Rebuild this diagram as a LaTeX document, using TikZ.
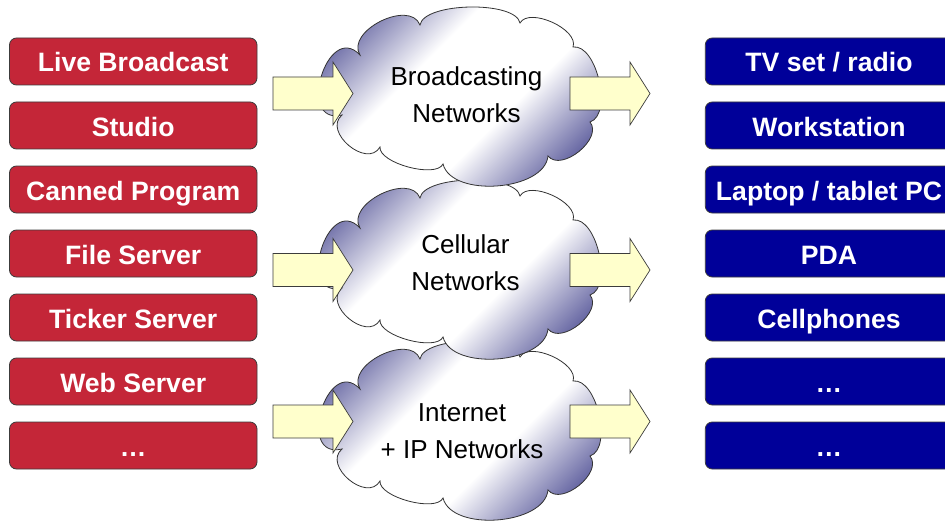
\documentclass[tikz,border=0pt]{standalone}
\usepackage{fontspec}
\setmainfont{Liberation Sans}
\usetikzlibrary{calc}

\definecolor{srcred}{RGB}{196,38,56}
\definecolor{dstblue}{RGB}{0,0,153}
\definecolor{arrowfill}{RGB}{255,255,204}
\definecolor{clouddark}{RGB}{98,98,160}
\definecolor{edgegray}{RGB}{60,60,60}

% dark at both ends of the axis, a broad white band in the middle
\pgfdeclareverticalshading{cloudfade}{100bp}{color(0bp)=(clouddark); color(25bp)=(clouddark);
  color(41bp)=(white); color(59bp)=(white); color(75bp)=(clouddark); color(100bp)=(clouddark)}

\tikzset{
  devbox/.style={rectangle, rounded corners=7pt, draw=edgegray, line width=0.8pt,
    minimum width=247.5pt, minimum height=47pt, inner sep=0pt, text=white,
    text height=21pt, text depth=0pt,
    font=\bfseries\fontsize{26.6}{30}\selectfont},
  srcbox/.style={devbox, fill=srcred},
  dstbox/.style={devbox, fill=dstblue},
  nettext/.style={align=center, inner sep=0pt, font=\fontsize{26}{37}\selectfont},
  arrowstyle/.style={draw=edgegray, line width=0.7pt, fill=arrowfill, line join=miter},
  cloudstyle/.style={draw=black!80, line width=0.8pt, shading=cloudfade, shading angle=45},
  % one rounded puff of the cloud outline: control distance #1, leaving the
  % chord at angle #2 on the outer side
  puffto/.style 2 args={to path={.. controls
      ($(\tikztostart)!#1!#2:(\tikztotarget)$) and
      ($(\tikztotarget)!#1!-#2:(\tikztostart)$) .. (\tikztotarget)}},
  pics/netcloud/.style={code={
    \path[cloudstyle] (-118,17)
      to[puffto={47.7pt}{120}] (-100,-43)
      to[puffto={28.1pt}{95}]  (-40,-73)
      to[puffto={23pt}{80}]    (60,-75)
      to[puffto={18.7pt}{85}]  (113,-51)
      to[puffto={24.1pt}{85}]  (130,24)
      to[puffto={21.3pt}{90}]  (88,58)
      to[puffto={35.2pt}{80}]  (-17,66)
      to[puffto={16.2pt}{80}]  (-80,49)
      to[puffto={25.7pt}{100}] (-118,17) -- cycle;
  }},
  pics/blockarrow/.style={code={
    \draw[arrowstyle] (0,-16.5) -- (60,-16.5) -- (60,-31.5) -- (80,0) -- (60,31.5)
      -- (60,16.5) -- (0,16.5) -- cycle;
  }}
}

\begin{document}
\begin{tikzpicture}[x=1pt,y=-1pt]
% page frame
\useasboundingbox (0,0) rectangle (945,524);
\clip (0,0) rectangle (945,524);
\fill[white] (0,0) rectangle (945,524);

% sources
\node[srcbox] (s1) at (133.25,61.5)  {Live Broadcast};
\node[srcbox] (s2) at (133.25,125.5) {Studio};
\node[srcbox] (s3) at (133.25,189.5) {Canned Program};
\node[srcbox] (s4) at (133.25,253.5) {File Server};
\node[srcbox] (s5) at (133.25,317.5) {Ticker Server};
\node[srcbox] (s6) at (133.25,381.5) {Web Server};
\node[srcbox] (s7) at (133.25,445.5) {…};

% terminals, running past the right edge
\node[dstbox] (d1) at (829,61.5)  {TV set / radio};
\node[dstbox] (d2) at (829,125.5) {Workstation};
\node[dstbox] (d3) at (829,189.5) {Laptop / tablet PC};
\node[dstbox] (d4) at (829,253.5) {PDA};
\node[dstbox] (d5) at (829,317.5) {Cellphones};
\node[dstbox] (d6) at (829,381.5) {…};
\node[dstbox] (d7) at (829,445.5) {…};

% networks, lowest first so the upper clouds overlap them
\pic at (460,432) {netcloud};
\pic at (460,271) {netcloud};
\pic at (460,98)  {netcloud};

% block arrows into and out of each network
\pic at (273,93.5)  {blockarrow};
\pic at (273,270)   {blockarrow};
\pic at (273,421.5) {blockarrow};
\pic at (570,93.5)  {blockarrow};
\pic at (570,270)   {blockarrow};
\pic at (570,421.5) {blockarrow};

\node[nettext] (bcast) at (466.5,95) {Broadcasting\\Networks};
\node[nettext] (cell)  at (465.5,263) {Cellular\\Networks};
\node[nettext] (inet)  at (462,431) {Internet\\+ IP Networks};
\end{tikzpicture}
\end{document}
